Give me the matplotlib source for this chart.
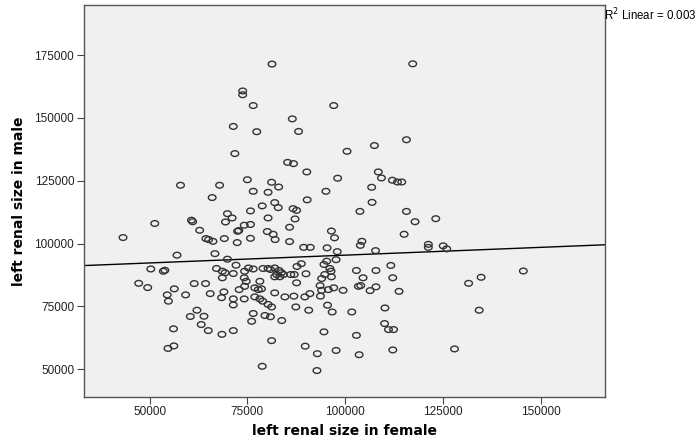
"""
SPSS-style scatter plot: left renal size, female vs male, with linear fit.
"""
import numpy as np
import matplotlib
matplotlib.use("Agg")
import matplotlib.pyplot as plt
from matplotlib.path import Path

# values
female = [
    73800, 73800, 76500, 71400, 71800, 81300, 97100, 86500, 77400, 88100,
    100500, 107500, 117300, 115700, 85300, 86800, 90200, 98100, 108500, 109300,
    75000, 112100, 113400, 114500, 81200, 83000, 76500, 80300, 95100, 106800,
    57900, 67900, 66000, 90300, 106900, 82000, 82900, 78800, 86700, 87600,
    75800, 103800, 115700, 117900, 123200, 51300, 60700, 61000, 69900, 69400,
    71100, 80300, 87200, 62800, 64400, 65100, 66200, 69100, 72500, 72800,
    74200, 75800, 85800, 80100, 81600, 82100, 96500, 97300, 75800, 72400,
    43200, 115100, 104300, 85800, 121300, 121300, 125100, 126000, 103900, 89400,
    91100, 95400, 98000, 107800, 57000, 66700, 69900, 97700, 95300, 94600,
    88800, 87700, 96100, 96400, 76500, 102900, 107900, 111700, 112200, 104600,
    90000, 145600, 134800, 131600, 50300, 53500, 53900, 67100, 72100, 68600,
    69300, 71400, 74300, 75300, 68600, 74200, 79000, 80300, 80900, 82000,
    83100, 83700, 82500, 84200, 86100, 87000, 82000, 83300, 94000, 94800,
    96500, 78200, 76900, 77800, 78600, 76900, 78200, 78900, 80300, 81200,
    76500, 76100, 79500, 80900, 83800, 82000, 84600, 86900, 87600, 87400,
    89700, 91000, 90700, 93700, 93600, 94000, 95700, 97100, 99500, 95500,
    96700, 101700, 103400, 104000, 106400, 107900, 110200, 113800, 110100, 111100,
    112400, 94600, 102900, 81200, 89800, 92900, 97700, 103600, 112200, 78800,
    92800, 134300, 128000, 47200, 49500, 56300, 54500, 54800, 59200, 61400,
    64300, 65500, 69000, 68400, 71400, 71400, 72900, 74200, 62100, 60400,
    63900, 63200, 65000, 68500, 71400, 56100, 56200, 54700, 74300, 74700,
]
male = [
    160700, 159200, 154900, 146600, 135800, 171400, 154900, 149600, 144500, 144600,
    136700, 139000, 171500, 141300, 132300, 131800, 128500, 126000, 128500, 126100,
    125400, 125200, 124500, 124500, 124400, 122500, 120800, 120400, 120800, 122400,
    123200, 123200, 118300, 117400, 116400, 116300, 114300, 115000, 113900, 113200,
    113000, 112800, 112800, 108700, 109900, 108000, 109300, 108700, 111900, 108600,
    110200, 110200, 109800, 105300, 102000, 101600, 100900, 102000, 104900, 105200,
    107300, 107600, 106500, 104800, 103700, 101600, 105000, 102300, 102100, 100400,
    102400, 103700, 100900, 100800, 99700, 98500, 99100, 97900, 99300, 98500,
    98500, 98300, 96800, 97200, 95400, 96000, 93800, 93600, 93000, 91700,
    92000, 90900, 90100, 89000, 89900, 89300, 89300, 91300, 86400, 86400,
    88000, 89100, 86600, 84200, 89900, 89000, 89400, 90100, 91400, 89000,
    88400, 88100, 89000, 90300, 86400, 86400, 90100, 90100, 89700, 90300,
    89300, 88400, 87700, 87700, 87700, 87700, 86800, 86800, 86100, 87700,
    86800, 85000, 82400, 81700, 82000, 78800, 78000, 77100, 75800, 74800,
    72200, 69100, 71400, 70900, 69400, 80400, 78800, 79100, 84400, 74800,
    78800, 80100, 73500, 79100, 83300, 81400, 81700, 82400, 81400, 75500,
    72800, 72800, 83000, 83300, 81300, 82800, 74400, 81000, 68200, 65800,
    65800, 64900, 63500, 61400, 59200, 56200, 57500, 55800, 57700, 51200,
    49500, 73500, 58100, 84200, 82500, 82000, 79600, 77100, 79600, 84100,
    84100, 80100, 80800, 78500, 78000, 75600, 81700, 78000, 73500, 71000,
    71100, 67800, 65400, 63900, 65400, 66100, 59300, 58300, 83000, 85000,
]

# fit line as shown in the chart (intercept, slope)
fit_intercept = 89200
fit_slope = 0.062

x_ticks = [50000, 75000, 100000, 125000, 150000]
y_ticks = [50000, 75000, 100000, 125000, 150000, 175000]

# slightly flattened circle, like the SPSS markers
t = np.linspace(0, 2 * np.pi, 40)
ellipse = Path(np.column_stack([np.cos(t), 0.75 * np.sin(t)]), closed=True)

fig = plt.figure(figsize=(6.98, 4.37), dpi=100)
ax = fig.add_axes([0.1203, 0.0922, 0.7465, 0.8964])
ax.set_facecolor("#f0f0f0")

ax.scatter(female, male, marker=ellipse, s=30, facecolors="none",
           edgecolors="#333333", linewidths=1.0, zorder=3)

xlim = (33200, 166500)
ax.set_xlim(xlim)
ax.set_ylim(39100, 194900)
xs = np.array(xlim)
ax.plot(xs, fit_intercept + fit_slope * xs, color="black", lw=1.0, zorder=2)

ax.set_xticks(x_ticks)
ax.set_yticks(y_ticks)
ax.tick_params(direction="out", length=5, width=0.8, color="#444444",
               labelsize=8.5, labelcolor="#222222", pad=2)
for s in ax.spines.values():
    s.set_color("#555555")
    s.set_linewidth(1.0)

ax.set_xlabel("left renal size in female", fontsize=10, fontweight="bold",
              family="DejaVu Sans", labelpad=4)
ax.set_ylabel("left renal size in male", fontsize=10, fontweight="bold",
              family="DejaVu Sans", labelpad=6)
for lbl in ax.get_xticklabels() + ax.get_yticklabels():
    lbl.set_family("Liberation Sans")

fig.text(0.866, 0.985, "R$^2$ Linear = 0.003", fontsize=8.3,
         family="Liberation Sans", ha="left", va="top")

plt.savefig("out.png", dpi=100)
